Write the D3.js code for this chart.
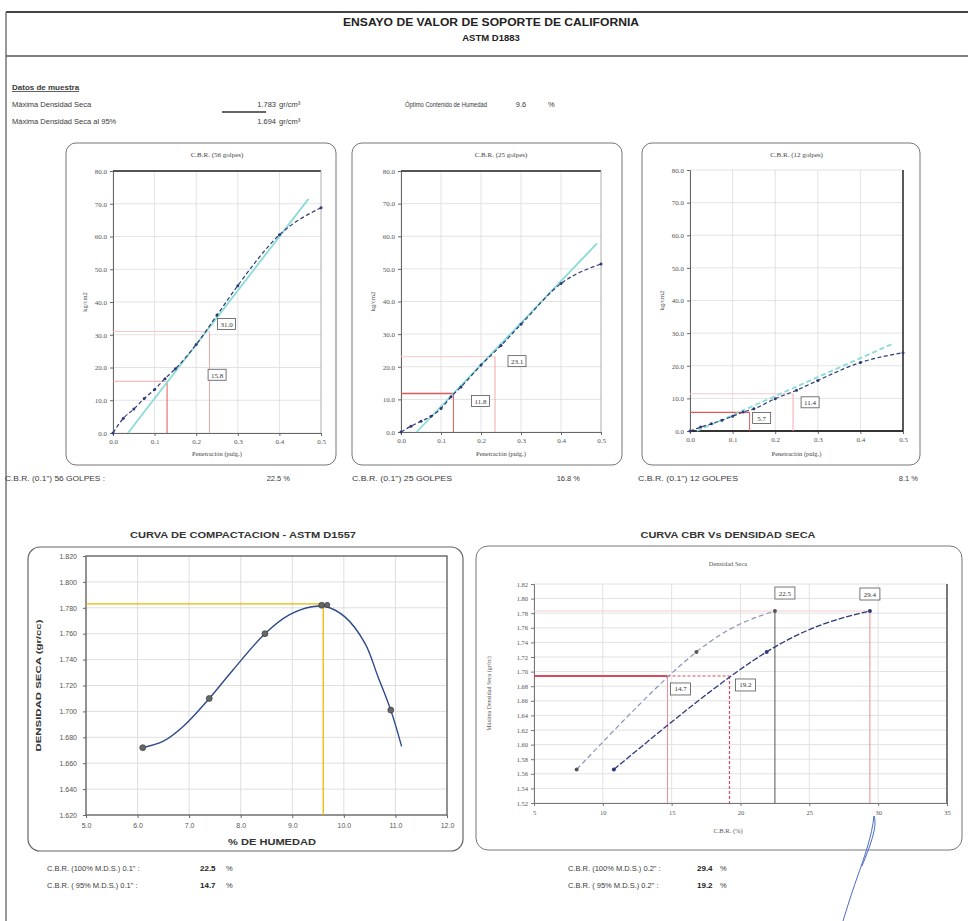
<!DOCTYPE html>
<html><head><meta charset="utf-8">
<script src="https://cdn.jsdelivr.net/npm/d3@7"></script>
<style>body{margin:0;background:#fff} svg{display:block}</style>
</head><body><svg id="c" width="968" height="921"></svg>
<script>
// ---------------- DATA ----------------
const penetration = [0, 0.025, 0.05, 0.075, 0.1, 0.125, 0.15, 0.2, 0.25, 0.3, 0.4, 0.5];
const load56 = [0, 4.5, 7.3, 10.5, 13.3, 16.6, 19.6, 27.0, 36.0, 45.0, 60.5, 68.8];
const load25 = [0, 1.8, 3.3, 4.8, 7.2, 10.8, 13.8, 20.5, 26.5, 33.0, 45.5, 51.5];
const load12 = [0, 1.2, 2.2, 3.3, 4.5, 5.8, 6.8, 9.9, 12.5, 15.5, 21.0, 24.0];
const blowTitles = ["C.B.R. (56 golpes)", "C.B.R. (25 golpes)", "C.B.R. (12 golpes)"];
const blowSummary = ["C.B.R. (0.1\") 56 GOLPES :", "C.B.R. (0.1\") 25 GOLPES", "C.B.R. (0.1\") 12 GOLPES"];
const tangentPen = [[0.036, 0.47], [0.039, 0.49], [0.016, 0.477]];
const tangentLoad = [[0, 71.5], [0, 57.8], [0, 26.8]];
const correctedPen = [[0.13, 0.232], [0.131, 0.235], [0.14, 0.242]];
const correctedLoad = [[15.8, 31.0], [11.8, 23.1], [5.7, 11.4]];
const cbr01 = [22.5, 16.8, 8.1];
const cbr02 = [29.4, 21.9, 10.8];
const specimenDensity = [1.783, 1.727, 1.566];
const penTicks = [0, 0.1, 0.2, 0.3, 0.4, 0.5];
const loadTicks = [0, 10, 20, 30, 40, 50, 60, 70, 80];

const moisture = [6.1, 7.39, 8.47, 9.57, 10.91];
const dryDensity = [1.672, 1.710, 1.760, 1.782, 1.701];
const fitMoisture = [6.1, 6.5, 6.9, 7.39, 7.85, 8.47, 8.94, 9.38, 9.64, 10.02, 10.41, 10.66, 10.91, 11.12];
const fitDensity = [1.672, 1.677, 1.689, 1.710, 1.732, 1.760, 1.7745, 1.7808, 1.781, 1.773, 1.7526, 1.727, 1.701, 1.673];
const maxDensity = 1.783, optMoisture = 9.6, density95 = 1.694;
const cbr95_01 = 14.7, cbr95_02 = 19.2;
const moistureTicks = [5, 6, 7, 8, 9, 10, 11, 12];
const densityTicks = [1.62, 1.64, 1.66, 1.68, 1.70, 1.72, 1.74, 1.76, 1.78, 1.80, 1.82];
const cbrTicks = [5, 10, 15, 20, 25, 30, 35];
const densTicks2 = [1.52, 1.54, 1.56, 1.58, 1.60, 1.62, 1.64, 1.66, 1.68, 1.70, 1.72, 1.74, 1.76, 1.78, 1.80, 1.82];

// ---------------- DRAW ----------------
const svg = d3.select("#c");
const SANS = "'Liberation Sans', Arial, sans-serif";
const SERIF = "'Liberation Serif', 'Times New Roman', serif";
const TXT = "#3a3a3a";
svg.append("rect").attr("width", 968).attr("height", 921).attr("fill", "#fff");

svg.append("line").attr("x1", 6).attr("x2", 968).attr("y1", 12).attr("y2", 12).attr("stroke", "#444").attr("stroke-width", 2);
svg.append("line").attr("x1", 6).attr("x2", 6).attr("y1", 12).attr("y2", 921).attr("stroke", "#777").attr("stroke-width", 1.5);
svg.append("line").attr("x1", 6).attr("x2", 968).attr("y1", 56).attr("y2", 56).attr("stroke", "#555").attr("stroke-width", 1.5);

function txt(x, y, s, o = {}) {
  const t = svg.append("text").attr("x", x).attr("y", y).text(s)
    .attr("font-family", o.ff || SANS).attr("font-size", o.fs || 8)
    .attr("font-weight", o.fw || "normal").attr("fill", o.fill || TXT)
    .attr("text-anchor", o.anchor || "start");
  if (o.len) t.attr("textLength", o.len).attr("lengthAdjust", "spacingAndGlyphs");
  return t;
}
txt(491, 26, "ENSAYO DE VALOR DE SOPORTE DE CALIFORNIA", {fs: 11, fw: "bold", anchor: "middle", fill: "#222", len: 296});
txt(491, 41, "ASTM D1883", {fs: 9.5, fw: "bold", anchor: "middle", fill: "#222"});

txt(12, 90, "Datos de muestra", {fs: 8, fw: "bold"}).attr("text-decoration", "underline");
txt(12, 107, "Máxima Densidad Seca", {fs: 7.5});
txt(12, 124, "Máxima Densidad Seca  al 95%", {fs: 7.5});
txt(276, 107, d3.format(".3f")(maxDensity), {fs: 7.5, anchor: "end"});
txt(279, 107, "gr/cm³", {fs: 7.5});
svg.append("line").attr("x1", 222).attr("x2", 266).attr("y1", 112).attr("y2", 112).attr("stroke", "#333").attr("stroke-width", 1.5);
txt(276, 124, d3.format(".3f")(density95), {fs: 7.5, anchor: "end"});
txt(279, 124, "gr/cm³", {fs: 7.5});
txt(405, 107, "Óptimo Contenido de Humedad", {fs: 7.5, len: 82});
txt(521, 107, d3.format(".1f")(optMoisture), {fs: 7.5, anchor: "middle"});
txt(548, 107, "%", {fs: 7.5});

// ---------- small CBR charts ----------
const smallGeom = [
  {px: 66, pw: 270, x0: 113, x1: 321, yt: 171, yb: 433, frame: "top", box: [[50, -6], [17, -7]]},
  {px: 352, pw: 270, x0: 401, x1: 601, yt: 171, yb: 432, frame: "top", box: [[27, 8], [22, 5]]},
  {px: 642, pw: 278, x0: 690, x1: 903, yt: 170, yb: 431, frame: "br", box: [[12, 6], [17, 9]]}
];
const loads = [load56, load25, load12];

smallGeom.forEach((g, i) => {
  svg.append("rect").attr("x", g.px).attr("y", 143).attr("width", g.pw).attr("height", 322)
    .attr("rx", 10).attr("fill", "none").attr("stroke", "#777").attr("stroke-width", 1);
  const x = d3.scaleLinear().domain([0, 0.5]).range([g.x0, g.x1]);
  const y = d3.scaleLinear().domain([0, 80]).range([g.yb, g.yt]);
  const G = svg.append("g");
  G.selectAll(".vg").data(penTicks).join("line").attr("x1", d => x(d)).attr("x2", d => x(d))
    .attr("y1", g.yt).attr("y2", g.yb).attr("stroke", "#dcdcdc").attr("stroke-width", 0.8);
  G.selectAll(".hg").data(loadTicks).join("line").attr("y1", d => y(d)).attr("y2", d => y(d))
    .attr("x1", g.x0).attr("x2", g.x1).attr("stroke", "#dcdcdc").attr("stroke-width", 0.8);
  const ax = G.append("g").attr("transform", `translate(0,${g.yb})`)
    .call(d3.axisBottom(x).tickValues(penTicks).tickFormat(d3.format(".1f")).tickSize(3));
  const ay = G.append("g").attr("transform", `translate(${g.x0},0)`)
    .call(d3.axisLeft(y).tickValues(loadTicks).tickFormat(d3.format(".1f")).tickSize(3));
  [ax, ay].forEach(a => {
    a.selectAll("path,line").attr("stroke", "#666");
    a.selectAll("text").attr("font-family", SERIF).attr("font-size", 7).attr("fill", "#555");
  });
  if (g.frame === "top") {
    G.append("line").attr("x1", g.x0).attr("x2", g.x1).attr("y1", g.yt).attr("y2", g.yt).attr("stroke", "#555").attr("stroke-width", 2);
    G.append("line").attr("x1", g.x1).attr("x2", g.x1).attr("y1", g.yt).attr("y2", g.yb).attr("stroke", "#bbb").attr("stroke-width", 1);
  } else {
    G.append("line").attr("x1", g.x0).attr("x2", g.x1).attr("y1", g.yb).attr("y2", g.yb).attr("stroke", "#333").attr("stroke-width", 2);
    G.append("line").attr("x1", g.x1).attr("x2", g.x1).attr("y1", g.yt).attr("y2", g.yb).attr("stroke", "#333").attr("stroke-width", 1.6);
  }
  correctedPen[i].forEach((p, j) => {
    const c = j === 0 ? "#e05858" : "#f2a9a9";
    G.append("line").attr("x1", x(p)).attr("x2", x(p)).attr("y1", y(0)).attr("y2", y(correctedLoad[i][j])).attr("stroke", c).attr("stroke-width", 1);
    G.append("line").attr("x1", x(0)).attr("x2", x(p)).attr("y1", y(correctedLoad[i][j])).attr("y2", y(correctedLoad[i][j]))
      .attr("stroke", j === 0 ? (i === 0 ? "#f2a9a9" : "#e05858") : "#f6c8c8").attr("stroke-width", j === 0 && i > 0 ? 1.3 : 1);
  });
  G.append("line").attr("x1", x(tangentPen[i][0])).attr("x2", x(tangentPen[i][1]))
    .attr("y1", y(tangentLoad[i][0])).attr("y2", y(tangentLoad[i][1]))
    .attr("stroke", "#8adcd6").attr("stroke-width", 1.8).attr("stroke-dasharray", i === 2 ? "5,3" : null);
  const line = d3.line().x((d, k) => x(penetration[k])).y(d => y(d)).curve(d3.curveMonotoneX);
  G.append("path").attr("d", line(loads[i])).attr("fill", "none").attr("stroke", "#2d3a78")
    .attr("stroke-width", 1.2).attr("stroke-dasharray", "4,2.5");
  G.selectAll(".pt").data(loads[i]).join("circle").attr("cx", (d, k) => x(penetration[k])).attr("cy", d => y(d))
    .attr("r", 1.5).attr("fill", "#2d3a78");
  correctedLoad[i].forEach((v, j) => {
    const bx = x(correctedPen[i][j]) + g.box[j][0], by = y(v) + g.box[j][1];
    G.append("rect").attr("x", bx - 9).attr("y", by - 6).attr("width", 18).attr("height", 11)
      .attr("fill", "#fff").attr("stroke", "#555").attr("stroke-width", 0.8);
    G.append("text").attr("x", bx).attr("y", by + 2.5).attr("text-anchor", "middle").text(d3.format(".1f")(v))
      .attr("font-family", SERIF).attr("font-size", 7).attr("fill", "#333");
  });
  txt((g.x0 + g.x1) / 2, 157, blowTitles[i], {ff: SERIF, fs: 7, anchor: "middle", fill: "#444"});
  txt((g.x0 + g.x1) / 2, 456, "Penetración (pulg.)", {ff: SERIF, fs: 6.5, anchor: "middle", fill: "#444"});
  svg.append("text").attr("transform", `translate(${g.x0 - 26},${(g.yt + g.yb) / 2}) rotate(-90)`)
    .attr("text-anchor", "middle").text("kg/cm2").attr("font-family", SERIF).attr("font-size", 6.5).attr("fill", "#444");
});
const sumX = [5, 352, 638], sumV = [290, 580, 918];
blowSummary.forEach((s, i) => {
  txt(sumX[i], 481, s, {fs: 7.5, len: 100});
  txt(sumV[i], 481, d3.format(".1f")(cbr01[i]) + " %", {fs: 7.5, anchor: "end"});
});

// ---------- compaction curve ----------
{
  svg.append("rect").attr("x", 28).attr("y", 547).attr("width", 435).attr("height", 304)
    .attr("rx", 12).attr("fill", "none").attr("stroke", "#666").attr("stroke-width", 1.2);
  txt(243, 538, "CURVA DE COMPACTACION - ASTM D1557", {fs: 9, fw: "bold", anchor: "middle", fill: "#333", len: 226});
  const x = d3.scaleLinear().domain([5, 12]).range([86, 447]);
  const y = d3.scaleLinear().domain([1.62, 1.82]).range([815, 556]);
  const G = svg.append("g");
  G.selectAll(".vg").data(moistureTicks).join("line").attr("x1", d => x(d)).attr("x2", d => x(d))
    .attr("y1", y(1.82)).attr("y2", y(1.62)).attr("stroke", "#dedede");
  G.selectAll(".hg").data(densityTicks).join("line").attr("y1", d => y(d)).attr("y2", d => y(d))
    .attr("x1", x(5)).attr("x2", x(12)).attr("stroke", "#dedede");
  G.append("rect").attr("x", x(5)).attr("y", y(1.82)).attr("width", x(12) - x(5)).attr("height", y(1.62) - y(1.82))
    .attr("fill", "none").attr("stroke", "#555").attr("stroke-width", 1.2);
  const ax = G.append("g").attr("transform", `translate(0,${y(1.62)})`)
    .call(d3.axisBottom(x).tickValues(moistureTicks).tickFormat(d3.format(".1f")).tickSize(3).tickPadding(5));
  const ay = G.append("g").attr("transform", `translate(${x(5)},0)`)
    .call(d3.axisLeft(y).tickValues(densityTicks).tickFormat(d3.format(".3f")).tickSize(3).tickPadding(6));
  [ax, ay].forEach(a => {
    a.select(".domain").remove();
    a.selectAll("line").attr("stroke", "#666");
    a.selectAll("text").attr("font-family", SANS).attr("font-size", 7).attr("fill", "#555");
  });
  G.append("line").attr("x1", x(5)).attr("x2", x(optMoisture)).attr("y1", y(maxDensity)).attr("y2", y(maxDensity))
    .attr("stroke", "#f0b400").attr("stroke-width", 1.3);
  G.append("line").attr("x1", x(optMoisture)).attr("x2", x(optMoisture)).attr("y1", y(maxDensity)).attr("y2", y(1.62))
    .attr("stroke", "#f0b400").attr("stroke-width", 1.3);
  const line = d3.line().x((d, k) => x(fitMoisture[k])).y(d => y(d)).curve(d3.curveCatmullRom);
  G.append("path").attr("d", line(fitDensity)).attr("fill", "none").attr("stroke", "#2d4a8a").attr("stroke-width", 1.4);
  G.selectAll(".pt").data(dryDensity).join("circle").attr("cx", (d, k) => x(moisture[k])).attr("cy", d => y(d))
    .attr("r", 3).attr("fill", "#666").attr("stroke", "#333").attr("stroke-width", 0.6);
  G.append("circle").attr("cx", x(optMoisture) + 4).attr("cy", y(maxDensity) + 1).attr("r", 2.6).attr("fill", "#666").attr("stroke", "#333").attr("stroke-width", 0.6);
  txt(272, 845, "% DE HUMEDAD", {fs: 8.5, fw: "bold", anchor: "middle", fill: "#333", len: 88});
  svg.append("text").attr("transform", `translate(41,${(y(1.62) + y(1.82)) / 2}) rotate(-90)`).attr("text-anchor", "middle")
    .text("DENSIDAD SECA (gr/cc)").attr("font-family", SANS).attr("font-size", 8).attr("font-weight", "bold").attr("fill", "#333")
    .attr("textLength", 132).attr("lengthAdjust", "spacingAndGlyphs");
}

// ---------- CBR vs density ----------
{
  svg.append("rect").attr("x", 476).attr("y", 546).attr("width", 486).attr("height", 304)
    .attr("rx", 12).attr("fill", "none").attr("stroke", "#777").attr("stroke-width", 1);
  txt(728, 538, "CURVA CBR Vs DENSIDAD SECA", {fs: 9, fw: "bold", anchor: "middle", fill: "#333", len: 175});
  txt(728, 566, "Densidad Seca", {ff: SERIF, fs: 6.5, anchor: "middle", fill: "#555"});
  const x = d3.scaleLinear().domain([5, 35]).range([534, 947]);
  const y = d3.scaleLinear().domain([1.52, 1.82]).range([803, 584]);
  const G = svg.append("g");
  G.selectAll(".vg").data(cbrTicks).join("line").attr("x1", d => x(d)).attr("x2", d => x(d))
    .attr("y1", y(1.82)).attr("y2", y(1.52)).attr("stroke", "#e2e2e2");
  G.selectAll(".hg").data(densTicks2).join("line").attr("y1", d => y(d)).attr("y2", d => y(d))
    .attr("x1", x(5)).attr("x2", x(35)).attr("stroke", "#e2e2e2");
  const ax = G.append("g").attr("transform", `translate(0,${y(1.52)})`)
    .call(d3.axisBottom(x).tickValues(cbrTicks).tickFormat(d3.format("d")).tickSize(3).tickPadding(4));
  const ay = G.append("g").attr("transform", `translate(${x(5)},0)`)
    .call(d3.axisLeft(y).tickValues(densTicks2).tickFormat(d3.format(".2f")).tickSize(3));
  [ax, ay].forEach(a => {
    a.selectAll("path,line").attr("stroke", "#777");
    a.selectAll("text").attr("font-family", SERIF).attr("font-size", 6.5).attr("fill", "#555");
  });
  G.append("line").attr("x1", x(35)).attr("x2", x(35)).attr("y1", y(1.82)).attr("y2", y(1.52)).attr("stroke", "#444").attr("stroke-width", 1.4);
  G.append("line").attr("x1", x(5)).attr("x2", x(cbr02[0])).attr("y1", y(maxDensity)).attr("y2", y(maxDensity)).attr("stroke", "#f5cccc");
  G.append("line").attr("x1", x(cbr01[0])).attr("x2", x(cbr01[0])).attr("y1", y(maxDensity)).attr("y2", y(1.52)).attr("stroke", "#555").attr("stroke-width", 1);
  G.append("line").attr("x1", x(cbr02[0])).attr("x2", x(cbr02[0])).attr("y1", y(maxDensity)).attr("y2", y(1.52)).attr("stroke", "#f08c8c").attr("stroke-width", 1);
  G.append("line").attr("x1", x(5)).attr("x2", x(cbr95_01)).attr("y1", y(density95)).attr("y2", y(density95)).attr("stroke", "#d94a5a").attr("stroke-width", 2.2);
  G.append("line").attr("x1", x(cbr95_01)).attr("x2", x(cbr95_02)).attr("y1", y(density95)).attr("y2", y(density95)).attr("stroke", "#d94a5a").attr("stroke-width", 1).attr("stroke-dasharray", "3,2");
  G.append("line").attr("x1", x(cbr95_01)).attr("x2", x(cbr95_01)).attr("y1", y(density95)).attr("y2", y(1.52)).attr("stroke", "#ef8f9a").attr("stroke-width", 1);
  G.append("line").attr("x1", x(cbr95_02)).attr("x2", x(cbr95_02)).attr("y1", y(density95)).attr("y2", y(1.52)).attr("stroke", "#d94a5a").attr("stroke-width", 1.2).attr("stroke-dasharray", "3,2");
  const mk = (arr) => d3.line().x((d, k) => x(arr[k])).y(d => y(d)).curve(d3.curveNatural);
  const order = [2, 1, 0];
  const dens = order.map(k => specimenDensity[k]);
  const c1 = order.map(k => cbr01[k]), c2 = order.map(k => cbr02[k]);
  G.append("path").attr("d", mk(c1)(dens)).attr("fill", "none").attr("stroke", "#8a93b8").attr("stroke-width", 1.2).attr("stroke-dasharray", "5,3");
  G.append("path").attr("d", mk(c2)(dens)).attr("fill", "none").attr("stroke", "#2d3a78").attr("stroke-width", 1.3).attr("stroke-dasharray", "6,2");
  [[cbr01, "#555"], [cbr02, "#2d3a78"]].forEach(([arr, col]) => {
    G.selectAll(null).data(specimenDensity).join("circle").attr("cx", (d, k) => x(arr[k])).attr("cy", d => y(d))
      .attr("r", 2).attr("fill", col);
  });
  const boxes = [[cbr01[0], maxDensity, 10, -18], [cbr02[0], maxDensity, 0, -17], [cbr95_01, density95, 13, 13], [cbr95_02, density95, 16, 9]];
  boxes.forEach(([cv, dv, dx, dy]) => {
    const bx = x(cv) + dx, by = y(dv) + dy;
    G.append("rect").attr("x", bx - 10).attr("y", by - 6).attr("width", 20).attr("height", 12).attr("fill", "#fff").attr("stroke", "#555").attr("stroke-width", 0.8);
    G.append("text").attr("x", bx).attr("y", by + 2.5).attr("text-anchor", "middle").text(d3.format(".1f")(cv))
      .attr("font-family", SERIF).attr("font-size", 7).attr("fill", "#333");
  });
  txt(728, 833, "C.B.R. (%)", {ff: SERIF, fs: 6.5, anchor: "middle", fill: "#555"});
  svg.append("text").attr("transform", `translate(491,${(y(1.52) + y(1.82)) / 2}) rotate(-90)`).attr("text-anchor", "middle")
    .text("Máxima Densidad Seca (gr/cc)").attr("font-family", SERIF).attr("font-size", 6).attr("fill", "#555");
}

// ---------- bottom results ----------
const resLabels = [["C.B.R. (100% M.D.S.) 0.1\" :", "C.B.R. ( 95% M.D.S.) 0.1\" :"], ["C.B.R. (100% M.D.S.) 0.2\" :", "C.B.R. ( 95% M.D.S.) 0.2\" :"]];
const resValues = [[cbr01[0], cbr95_01], [cbr02[0], cbr95_02]];
const resX = [[47, 200, 226], [568, 697, 720]];
[0, 1].forEach(c => [0, 1].forEach(r => {
  const yy = 871 + r * 17;
  txt(resX[c][0], yy, resLabels[c][r], {fs: 7.5});
  txt(resX[c][1], yy, d3.format(".1f")(resValues[c][r]), {fs: 8, fw: "bold", fill: "#222"});
  txt(resX[c][2], yy, "%", {fs: 7.5});
}));

svg.append("path").attr("d", "M874,816 C872,836 864,858 857,878 C851,895 847,908 843,921 M874,816 C878,826 870,846 862,866")
  .attr("fill", "none").attr("stroke", "#4a6cc4").attr("stroke-width", 1);
</script></body></html>
